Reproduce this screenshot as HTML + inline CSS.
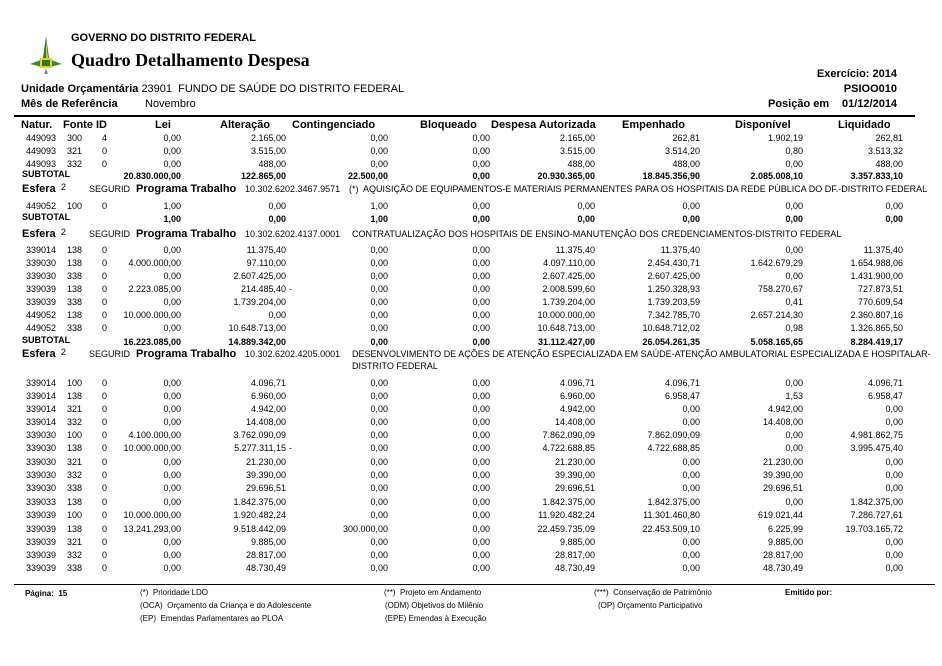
<!DOCTYPE html>
<html><head><meta charset="utf-8">
<style>
body{margin:0;background:#fff;}
#p{position:relative;width:942px;height:666px;overflow:hidden;font-family:"Liberation Sans",Arial,sans-serif;color:#000;}
.a{position:absolute;white-space:nowrap;}
.r{position:absolute;left:0;width:942px;height:13px;font-size:9px;line-height:13px;}
.r span{position:absolute;top:0;white-space:nowrap;}
.b{font-weight:bold;}
.n{left:26px}.f{left:67px}.i{left:102px}
.c1{right:761px}.c2{right:656px}.c3{right:554px}.c4{right:452px}.c5{right:347px}.c6{right:242px}.c7{right:139px}.c8{right:39px}
.h{font-size:11px;font-weight:bold;}
.ft{font-size:8px;}
</style></head><body><div id="p">
<svg class="a" style="left:28px;top:34px" width="36" height="42" viewBox="0 0 36 42">
<polygon points="18,2 21,24 15,24" fill="#2a7a2a"/>
<polygon points="18,6 20,24 18,24" fill="#e6d21a"/>
<polygon points="2,30 18,24 34,30 18,34" fill="#3a8a3a"/>
<rect x="12" y="24" width="12" height="10" fill="#e6d21a"/>
<rect x="14" y="26" width="8" height="6" fill="#2a7a2a"/>
<polygon points="18,34 20,40 16,40" fill="#888"/>
</svg>
<div class="a h" style="left:71px;top:32px">GOVERNO DO DISTRITO FEDERAL</div>
<div class="a" style="left:71px;top:50px;font-family:'Liberation Serif',serif;font-weight:bold;font-size:18px">Quadro Detalhamento Despesa</div>
<div class="a h" style="right:45px;top:68px">Exercício: 2014</div>
<div class="a h" style="right:45px;top:83px">PSIOO010</div>
<div class="a h" style="left:21px;top:83px">Unidade Orçamentária <span style="font-weight:normal">23901&nbsp; FUNDO DE SAÚDE DO DISTRITO FEDERAL</span></div>
<div class="a h" style="left:21px;top:98px">Mês de Referência</div>
<div class="a" style="left:145px;top:98px;font-size:11px">Novembro</div>
<div class="a h" style="left:768px;top:98px">Posição em</div>
<div class="a h" style="left:842px;top:98px">01/12/2014</div>
<div class="a" style="left:14px;top:115px;width:901px;height:2px;background:#000"></div>
<div class="a h" style="left:21px;top:119px">Natur.</div>
<div class="a h" style="left:63px;top:119px">Fonte ID</div>
<div class="a h" style="left:155px;top:119px">Lei</div>
<div class="a h" style="left:220px;top:119px">Alteração</div>
<div class="a h" style="left:292px;top:119px">Contingenciado</div>
<div class="a h" style="left:420px;top:119px">Bloqueado</div>
<div class="a h" style="left:491px;top:119px">Despesa Autorizada</div>
<div class="a h" style="left:622px;top:119px">Empenhado</div>
<div class="a h" style="left:735px;top:119px">Disponível</div>
<div class="a h" style="left:838px;top:119px">Liquidado</div>

<div class="r" style="top:132px"><span class="n">449093</span><span class="f">300</span><span class="i">4</span><span class="c1">0,00</span><span class="c2">2.165,00</span><span class="c3">0,00</span><span class="c4">0,00</span><span class="c5">2.165,00</span><span class="c6">262,81</span><span class="c7">1.902,19</span><span class="c8">262,81</span></div>
<div class="r" style="top:145px"><span class="n">449093</span><span class="f">321</span><span class="i">0</span><span class="c1">0,00</span><span class="c2">3.515,00</span><span class="c3">0,00</span><span class="c4">0,00</span><span class="c5">3.515,00</span><span class="c6">3.514,20</span><span class="c7">0,80</span><span class="c8">3.513,32</span></div>
<div class="r" style="top:158px"><span class="n">449093</span><span class="f">332</span><span class="i">0</span><span class="c1">0,00</span><span class="c2">488,00</span><span class="c3">0,00</span><span class="c4">0,00</span><span class="c5">488,00</span><span class="c6">488,00</span><span class="c7">0,00</span><span class="c8">488,00</span></div>
<div class="r b" style="top:170px"><span style="left:22px;top:-2px">SUBTOTAL</span><span class="c1">20.830.000,00</span><span class="c2">122.865,00</span><span class="c3">22.500,00</span><span class="c4">0,00</span><span class="c5">20.930.365,00</span><span class="c6">18.845.356,90</span><span class="c7">2.085.008,10</span><span class="c8">3.357.833,10</span></div>
<div class="r" style="top:183px"><span class="h" style="left:22px">Esfera</span><span style="left:61px;top:-2px">2</span><span style="left:89px">SEGURID</span><span class="h" style="left:136px">Programa Trabalho</span><span style="left:245px">10.302.6202.3467.9571</span><span style="left:349px">(*)&nbsp; AQUISIÇÃO DE EQUIPAMENTOS-E MATERIAIS PERMANENTES PARA OS HOSPITAIS DA REDE PÚBLICA DO DF.-DISTRITO FEDERAL</span></div>
<div class="r" style="top:200px"><span class="n">449052</span><span class="f">100</span><span class="i">0</span><span class="c1">1,00</span><span class="c2">0,00</span><span class="c3">1,00</span><span class="c4">0,00</span><span class="c5">0,00</span><span class="c6">0,00</span><span class="c7">0,00</span><span class="c8">0,00</span></div>
<div class="r b" style="top:213px"><span style="left:22px;top:-2px">SUBTOTAL</span><span class="c1">1,00</span><span class="c2">0,00</span><span class="c3">1,00</span><span class="c4">0,00</span><span class="c5">0,00</span><span class="c6">0,00</span><span class="c7">0,00</span><span class="c8">0,00</span></div>
<div class="r" style="top:228px"><span class="h" style="left:22px">Esfera</span><span style="left:61px;top:-2px">2</span><span style="left:89px">SEGURID</span><span class="h" style="left:136px">Programa Trabalho</span><span style="left:245px">10.302.6202.4137.0001</span><span style="left:352px">CONTRATUALIZAÇÃO DOS HOSPITAIS DE ENSINO-MANUTENÇÃO DOS CREDENCIAMENTOS-DISTRITO FEDERAL</span></div>
<div class="r" style="top:244px"><span class="n">339014</span><span class="f">138</span><span class="i">0</span><span class="c1">0,00</span><span class="c2">11.375,40</span><span class="c3">0,00</span><span class="c4">0,00</span><span class="c5">11.375,40</span><span class="c6">11.375,40</span><span class="c7">0,00</span><span class="c8">11.375,40</span></div>
<div class="r" style="top:257px"><span class="n">339030</span><span class="f">138</span><span class="i">0</span><span class="c1">4.000.000,00</span><span class="c2">97.110,00</span><span class="c3">0,00</span><span class="c4">0,00</span><span class="c5">4.097.110,00</span><span class="c6">2.454.430,71</span><span class="c7">1.642.679,29</span><span class="c8">1.654.988,06</span></div>
<div class="r" style="top:270px"><span class="n">339030</span><span class="f">338</span><span class="i">0</span><span class="c1">0,00</span><span class="c2">2.607.425,00</span><span class="c3">0,00</span><span class="c4">0,00</span><span class="c5">2.607.425,00</span><span class="c6">2.607.425,00</span><span class="c7">0,00</span><span class="c8">1.431.900,00</span></div>
<div class="r" style="top:283px"><span class="n">339039</span><span class="f">138</span><span class="i">0</span><span class="c1">2.223.085,00</span><span class="c2">214.485,40</span><span style="left:289px">-</span><span class="c3">0,00</span><span class="c4">0,00</span><span class="c5">2.008.599,60</span><span class="c6">1.250.328,93</span><span class="c7">758.270,67</span><span class="c8">727.873,51</span></div>
<div class="r" style="top:296px"><span class="n">339039</span><span class="f">338</span><span class="i">0</span><span class="c1">0,00</span><span class="c2">1.739.204,00</span><span class="c3">0,00</span><span class="c4">0,00</span><span class="c5">1.739.204,00</span><span class="c6">1.739.203,59</span><span class="c7">0,41</span><span class="c8">770.609,54</span></div>
<div class="r" style="top:309px"><span class="n">449052</span><span class="f">138</span><span class="i">0</span><span class="c1">10.000.000,00</span><span class="c2">0,00</span><span class="c3">0,00</span><span class="c4">0,00</span><span class="c5">10.000.000,00</span><span class="c6">7.342.785,70</span><span class="c7">2.657.214,30</span><span class="c8">2.360.807,16</span></div>
<div class="r" style="top:322px"><span class="n">449052</span><span class="f">338</span><span class="i">0</span><span class="c1">0,00</span><span class="c2">10.648.713,00</span><span class="c3">0,00</span><span class="c4">0,00</span><span class="c5">10.648.713,00</span><span class="c6">10.648.712,02</span><span class="c7">0,98</span><span class="c8">1.326.865,50</span></div>
<div class="r b" style="top:336px"><span style="left:22px;top:-2px">SUBTOTAL</span><span class="c1">16.223.085,00</span><span class="c2">14.889.342,00</span><span class="c3">0,00</span><span class="c4">0,00</span><span class="c5">31.112.427,00</span><span class="c6">26.054.261,35</span><span class="c7">5.058.165,65</span><span class="c8">8.284.419,17</span></div>
<div class="r" style="top:348px"><span class="h" style="left:22px">Esfera</span><span style="left:61px;top:-2px">2</span><span style="left:89px">SEGURID</span><span class="h" style="left:136px">Programa Trabalho</span><span style="left:245px">10.302.6202.4205.0001</span><span style="left:352px">DESENVOLVIMENTO DE AÇÕES DE ATENÇÃO ESPECIALIZADA EM SAÚDE-ATENÇÃO AMBULATORIAL ESPECIALIZADA E HOSPITALAR-</span></div>
<div class="r" style="top:360px"><span style="left:352px">DISTRITO FEDERAL</span></div>

<div class="r" style="top:377px"><span class="n">339014</span><span class="f">100</span><span class="i">0</span><span class="c1">0,00</span><span class="c2">4.096,71</span><span class="c3">0,00</span><span class="c4">0,00</span><span class="c5">4.096,71</span><span class="c6">4.096,71</span><span class="c7">0,00</span><span class="c8">4.096,71</span></div>
<div class="r" style="top:390px"><span class="n">339014</span><span class="f">138</span><span class="i">0</span><span class="c1">0,00</span><span class="c2">6.960,00</span><span class="c3">0,00</span><span class="c4">0,00</span><span class="c5">6.960,00</span><span class="c6">6.958,47</span><span class="c7">1,53</span><span class="c8">6.958,47</span></div>
<div class="r" style="top:403px"><span class="n">339014</span><span class="f">321</span><span class="i">0</span><span class="c1">0,00</span><span class="c2">4.942,00</span><span class="c3">0,00</span><span class="c4">0,00</span><span class="c5">4.942,00</span><span class="c6">0,00</span><span class="c7">4.942,00</span><span class="c8">0,00</span></div>
<div class="r" style="top:416px"><span class="n">339014</span><span class="f">332</span><span class="i">0</span><span class="c1">0,00</span><span class="c2">14.408,00</span><span class="c3">0,00</span><span class="c4">0,00</span><span class="c5">14.408,00</span><span class="c6">0,00</span><span class="c7">14.408,00</span><span class="c8">0,00</span></div>
<div class="r" style="top:429px"><span class="n">339030</span><span class="f">100</span><span class="i">0</span><span class="c1">4.100.000,00</span><span class="c2">3.762.090,09</span><span class="c3">0,00</span><span class="c4">0,00</span><span class="c5">7.862.090,09</span><span class="c6">7.862.090,09</span><span class="c7">0,00</span><span class="c8">4.981.862,75</span></div>
<div class="r" style="top:442px"><span class="n">339030</span><span class="f">138</span><span class="i">0</span><span class="c1">10.000.000,00</span><span class="c2">5.277.311,15</span><span style="left:289px">-</span><span class="c3">0,00</span><span class="c4">0,00</span><span class="c5">4.722.688,85</span><span class="c6">4.722.688,85</span><span class="c7">0,00</span><span class="c8">3.995.475,40</span></div>
<div class="r" style="top:456px"><span class="n">339030</span><span class="f">321</span><span class="i">0</span><span class="c1">0,00</span><span class="c2">21.230,00</span><span class="c3">0,00</span><span class="c4">0,00</span><span class="c5">21.230,00</span><span class="c6">0,00</span><span class="c7">21.230,00</span><span class="c8">0,00</span></div>
<div class="r" style="top:469px"><span class="n">339030</span><span class="f">332</span><span class="i">0</span><span class="c1">0,00</span><span class="c2">39.390,00</span><span class="c3">0,00</span><span class="c4">0,00</span><span class="c5">39.390,00</span><span class="c6">0,00</span><span class="c7">39.390,00</span><span class="c8">0,00</span></div>
<div class="r" style="top:482px"><span class="n">339030</span><span class="f">338</span><span class="i">0</span><span class="c1">0,00</span><span class="c2">29.696,51</span><span class="c3">0,00</span><span class="c4">0,00</span><span class="c5">29.696,51</span><span class="c6">0,00</span><span class="c7">29.696,51</span><span class="c8">0,00</span></div>
<div class="r" style="top:496px"><span class="n">339033</span><span class="f">138</span><span class="i">0</span><span class="c1">0,00</span><span class="c2">1.842.375,00</span><span class="c3">0,00</span><span class="c4">0,00</span><span class="c5">1.842.375,00</span><span class="c6">1.842.375,00</span><span class="c7">0,00</span><span class="c8">1.842.375,00</span></div>
<div class="r" style="top:509px"><span class="n">339039</span><span class="f">100</span><span class="i">0</span><span class="c1">10.000.000,00</span><span class="c2">1.920.482,24</span><span class="c3">0,00</span><span class="c4">0,00</span><span class="c5">11.920.482,24</span><span class="c6">11.301.460,80</span><span class="c7">619.021,44</span><span class="c8">7.286.727,61</span></div>
<div class="r" style="top:523px"><span class="n">339039</span><span class="f">138</span><span class="i">0</span><span class="c1">13.241.293,00</span><span class="c2">9.518.442,09</span><span class="c3">300.000,00</span><span class="c4">0,00</span><span class="c5">22.459.735,09</span><span class="c6">22.453.509,10</span><span class="c7">6.225,99</span><span class="c8">19.703.165,72</span></div>
<div class="r" style="top:536px"><span class="n">339039</span><span class="f">321</span><span class="i">0</span><span class="c1">0,00</span><span class="c2">9.885,00</span><span class="c3">0,00</span><span class="c4">0,00</span><span class="c5">9.885,00</span><span class="c6">0,00</span><span class="c7">9.885,00</span><span class="c8">0,00</span></div>
<div class="r" style="top:549px"><span class="n">339039</span><span class="f">332</span><span class="i">0</span><span class="c1">0,00</span><span class="c2">28.817,00</span><span class="c3">0,00</span><span class="c4">0,00</span><span class="c5">28.817,00</span><span class="c6">0,00</span><span class="c7">28.817,00</span><span class="c8">0,00</span></div>
<div class="r" style="top:562px"><span class="n">339039</span><span class="f">338</span><span class="i">0</span><span class="c1">0,00</span><span class="c2">48.730,49</span><span class="c3">0,00</span><span class="c4">0,00</span><span class="c5">48.730,49</span><span class="c6">0,00</span><span class="c7">48.730,49</span><span class="c8">0,00</span></div>

<div class="a" style="left:14px;top:584px;width:921px;height:1px;background:#000"></div>
<div class="a ft b" style="left:25px;top:589px">Página:&nbsp; 15</div>
<div class="a ft" style="left:140px;top:588px">(*)&nbsp; Prioridade LDO</div>
<div class="a ft" style="left:140px;top:601px">(OCA)&nbsp; Orçamento da Criança e do Adolescente</div>
<div class="a ft" style="left:140px;top:614px">(EP)&nbsp; Emendas Parlamentares ao PLOA</div>
<div class="a ft" style="left:384px;top:588px">(**)&nbsp; Projeto em Andamento</div>
<div class="a ft" style="left:385px;top:601px">(ODM) Objetivos do Milênio</div>
<div class="a ft" style="left:385px;top:614px">(EPE) Emendas à Execução</div>
<div class="a ft" style="left:594px;top:588px">(***)&nbsp; Conservação de Patrimônio</div>
<div class="a ft" style="left:598px;top:601px">(OP) Orçamento Participativo</div>
<div class="a ft b" style="left:785px;top:588px">Emitido por:</div>
</div></body></html>
